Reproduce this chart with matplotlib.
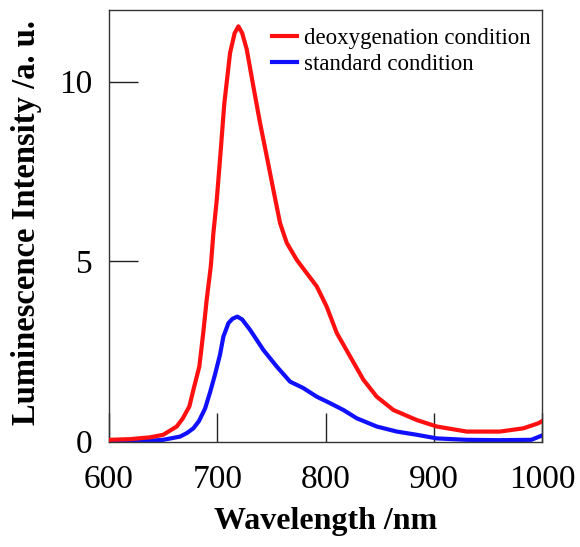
import matplotlib
matplotlib.use("Agg")
import matplotlib.pyplot as plt

plt.rcParams['font.family'] = ['Liberation Serif', 'DejaVu Serif']

# deoxygenation condition (red)
wl_red = [600, 620, 638, 650, 662.5, 668, 674.2, 677.9, 683.4, 687, 690.2, 694, 696.4, 699.5,
          703.2, 706.5, 711.8, 716, 719.5, 723, 727.2, 733.3, 739.5, 745.7, 751.8, 758,
          764.2, 773.4, 782.6, 791.9, 801, 810.4, 822.7, 835, 847.3, 862.7, 884.3, 902.8,
          930.4, 961, 982.7, 996.5, 1000]
int_red = [0.03, 0.05, 0.10, 0.17, 0.40, 0.62, 0.96, 1.42, 2.07, 3.00, 3.93, 4.86, 5.79, 6.71,
           8.10, 9.40, 10.8, 11.35, 11.54, 11.35, 10.9, 9.87, 8.85, 7.92, 6.99, 6.06,
           5.51, 5.04, 4.67, 4.30, 3.74, 3.00, 2.35, 1.70, 1.23, 0.86, 0.58, 0.40,
           0.26, 0.26, 0.35, 0.49, 0.55]

# standard condition (blue)
wl_blue = [600, 640, 650, 665.6, 672, 677.9, 683, 688.7, 693.3, 697.9, 702.5, 705.6, 710.3,
           714, 718.5, 723, 730.3, 742.6, 754.9, 767.2, 779.5, 791.9, 804.2, 816.5, 828.8,
           847.3, 865.8, 884.3, 902.8, 930, 960, 990, 1000]
int_blue = [0.0, 0.01, 0.03, 0.12, 0.22, 0.35, 0.55, 0.90, 1.35, 1.85, 2.40, 2.90, 3.28,
            3.40, 3.46, 3.38, 3.09, 2.53, 2.07, 1.65, 1.47, 1.23, 1.05, 0.86, 0.63,
            0.40, 0.26, 0.17, 0.07, 0.03, 0.02, 0.03, 0.15]

xticks = [600, 700, 800, 900, 1000]
yticks = [0, 5, 10]

fig = plt.figure(figsize=(5.8, 5.47), dpi=100)
ax = fig.add_axes([0.188, 0.192, 0.7466, 0.79])

lb, = ax.plot(wl_blue, int_blue, color='#1010ff', lw=3, label='standard condition', zorder=2)
lr, = ax.plot(wl_red, int_red, color='#ff1010', lw=3, label='deoxygenation condition', zorder=3)

ax.set_xlim(600, 1000)
ax.set_ylim(-0.03, 12)
ax.set_xticks(xticks)
ax.set_yticks(yticks)
ax.tick_params(direction='in', length=21, width=1, labelsize=24, color='#222222')
ax.tick_params(axis='x', pad=16)
ax.tick_params(axis='y', pad=12)
for s in ax.spines.values():
    s.set_color('#333333')
    s.set_linewidth(1)

ax.set_xlabel('Wavelength /nm', fontsize=23, fontweight='bold', labelpad=9)
ax.set_ylabel('Luminescence Intensity /a. u.', fontsize=23.5, fontweight='bold')
ax.yaxis.set_label_coords(-0.155, 0.507)

ax.legend(handles=[lr, lb], loc='upper right', frameon=False, fontsize=16.5,
          handlelength=1.1, handletextpad=0.3, labelspacing=0.21,
          borderaxespad=0.5, bbox_to_anchor=(1.021, 1.005))

fig.savefig('out.png', dpi=100)
